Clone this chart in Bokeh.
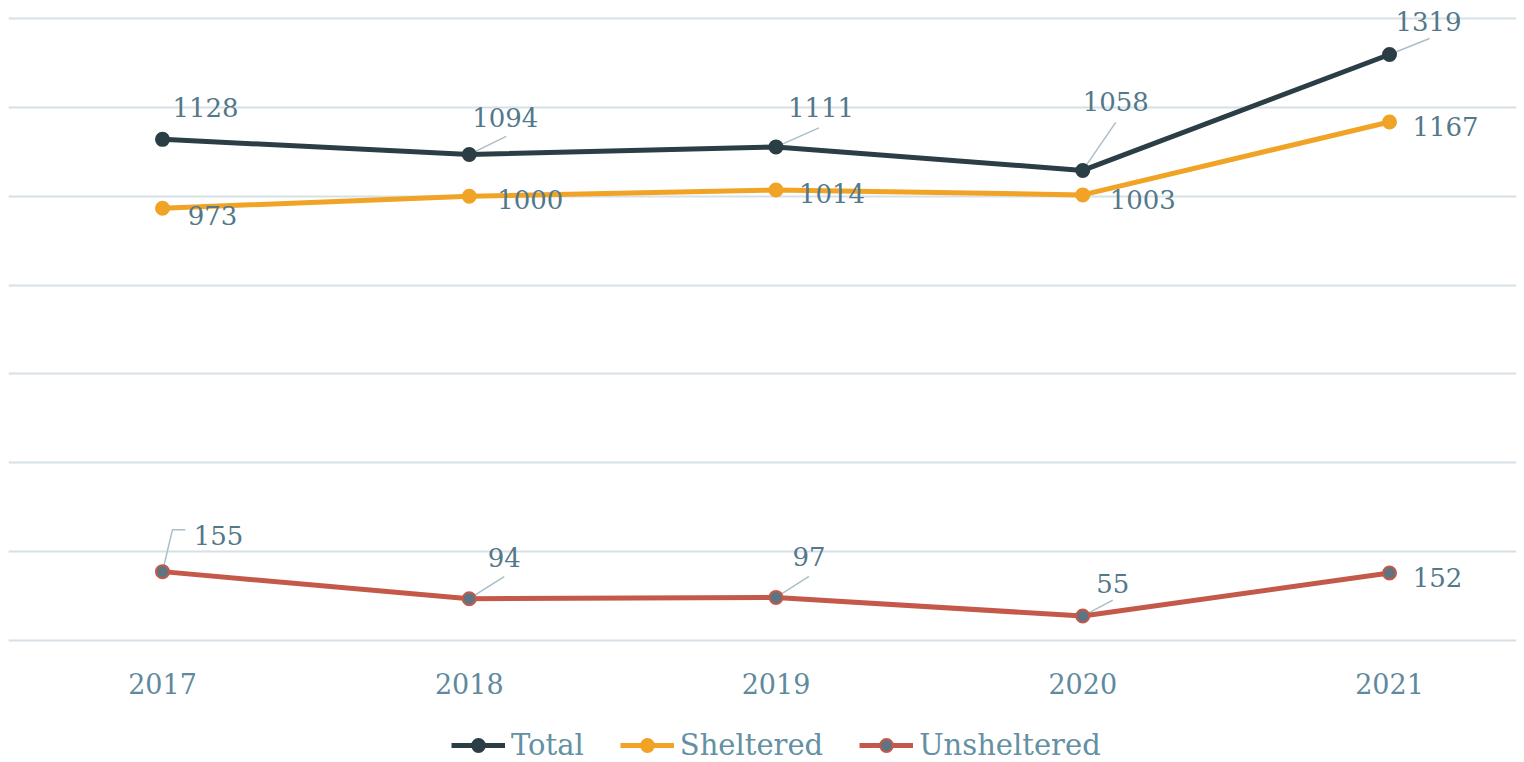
from bokeh.plotting import figure
from bokeh.models import ColumnDataSource, FixedTicker, Legend, LegendItem, Range1d
from bokeh.core.properties import value
from bokeh.embed import file_html
from bokeh.resources import INLINE

# ---------------- data ----------------
years = [2017, 2018, 2019, 2020, 2021]
year_labels = ["2017", "2018", "2019", "2020", "2021"]
total = [1128, 1094, 1111, 1058, 1319]
sheltered = [973, 1000, 1014, 1003, 1167]
unsheltered = [155, 94, 97, 55, 152]
series_names = ["Total", "Sheltered", "Unsheltered"]
grid_ticks = [0, 200, 400, 600, 800, 1000, 1200, 1400]

# ---------------- styles / label placement (screen px, +down) ----------------
C_TOTAL = "#2b3d45"
C_SHEL = "#f0a325"
C_UNSH = "#c4594a"
C_UNSH_FILL = "#5e7482"
C_LABEL = "#52788a"
C_AXIS = "#5f8a9e"
C_GRID = "#d6e0e6"
C_LEADER = "#a9bfc8"
FONT = "DejaVu Serif"

total_off = [(43, -32), (36, -37), (45, -39), (33, -69), (39, -33)]
shel_off = [(50, 7), (61, 3), (56, 4), (60, 5), (56, 4)]
unsh_off = [(56, -36), (35, -41), (33, -41), (30, -33), (48, 5)]
total_leaders = [None, [(0, 0), (37, -18)], [(0, 0), (43, -19)], [(0, 0), (33, -48)], [(0, 0), (40, -16)]]
unsh_leaders = [[(0, 0), (10, -42), (23, -42)], [(0, 0), (35, -22)], [(0, 0), (33, -21)], [(0, 0), (30, -16)], None]

FRAME_W, FRAME_H = 1508, 752
X0, X1 = 2016.498, 2021.414
Y0, Y1 = -274.6, 1418.0
AXIS_Y = -22.5
PXX = FRAME_W / (X1 - X0)
PXY = FRAME_H / (Y1 - Y0)

p = figure(width=1524, height=762, output_backend="svg", toolbar_location=None,
           x_range=Range1d(X0, X1), y_range=Range1d(Y0, Y1),
           min_border_left=8, min_border_right=8, min_border_top=10, min_border_bottom=0)
p.outline_line_color = None
p.background_fill_color = "white"
p.border_fill_color = "white"

# axes / grid
p.yaxis.visible = False
p.yaxis.ticker = FixedTicker(ticks=grid_ticks)
p.ygrid.ticker = FixedTicker(ticks=grid_ticks)
p.ygrid.grid_line_color = C_GRID
p.ygrid.grid_line_width = 2
p.xgrid.grid_line_color = None
p.xaxis.fixed_location = AXIS_Y
p.xaxis.ticker = FixedTicker(ticks=years)
p.xaxis.major_label_overrides = {y: l for y, l in zip(years, year_labels)}
p.xaxis.axis_line_color = None
p.xaxis.major_tick_line_color = None
p.xaxis.minor_tick_line_color = None
p.xaxis.major_tick_out = 0
p.xaxis.major_tick_in = 0
p.xaxis.major_label_standoff = 23
p.xaxis.major_label_text_font = FONT
p.xaxis.major_label_text_font_size = "27px"
p.xaxis.major_label_text_color = C_AXIS


def leaders(vals, paths):
    xs, ys = [], []
    for x, v, path in zip(years, vals, paths):
        if path is None:
            continue
        xs.append([x + dx / PXX for dx, dy in path])
        ys.append([v - dy / PXY for dx, dy in path])
    return xs, ys


for vals, paths in [(total, total_leaders), (unsheltered, unsh_leaders)]:
    lx, ly = leaders(vals, paths)
    p.multi_line(xs=lx, ys=ly, line_color=C_LEADER, line_width=1.5)

specs = [
    (sheltered, C_SHEL, C_SHEL, C_SHEL, shel_off, "Sheltered"),
    (unsheltered, C_UNSH, C_UNSH_FILL, C_UNSH, unsh_off, "Unsheltered"),
    (total, C_TOTAL, C_TOTAL, C_TOTAL, total_off, "Total"),
]
renderers = {}
for vals, lc, fc, oc, offs, name in specs:
    src = ColumnDataSource(dict(x=years, y=vals, txt=[str(v) for v in vals],
                                dx=[o[0] for o in offs], dy=[o[1] for o in offs]))
    r_line = p.line("x", "y", source=src, line_color=lc, line_width=5)
    r_pt = p.scatter("x", "y", source=src, size=13, fill_color=fc, line_color=oc, line_width=2)
    p.text("x", "y", text="txt", source=src, x_offset="dx", y_offset="dy",
           text_align="center", text_baseline="middle", text_font=value(FONT),
           text_font_size="26px", text_color=C_LABEL)
    renderers[name] = [r_line, r_pt]

legend = Legend(items=[LegendItem(label=n, renderers=renderers[n]) for n in series_names],
                orientation="horizontal", location=(443, 0), padding=0, margin=0,
                spacing=36, label_standoff=6, glyph_width=54, glyph_height=32, label_height=32,
                label_text_font=FONT, label_text_font_size="29px", label_text_color="#6490a3",
                border_line_color=None, background_fill_alpha=0)
p.add_layout(legend, "center")

open("out.html", "w").write(file_html(p, INLINE))
